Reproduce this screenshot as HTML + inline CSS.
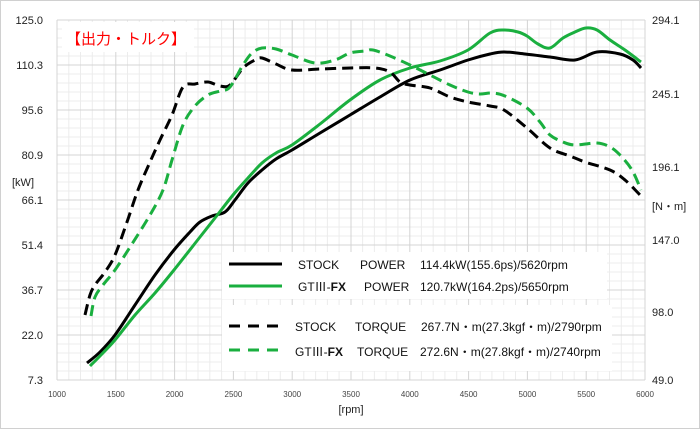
<!DOCTYPE html><html><head><meta charset="utf-8"><style>body{margin:0;background:#fff}svg{display:block;font-family:"Liberation Sans","Noto Sans CJK JP",sans-serif}</style></head><body>
<svg width="700" height="429" viewBox="0 0 700 429" xmlns="http://www.w3.org/2000/svg">
<rect x="0.5" y="0.5" width="699" height="428" fill="#fff" stroke="#d0d0d0"/>
<g stroke="#ececec" stroke-width="1">
<path d="M68.8 20V380M80.5 20V380M92.3 20V380M104 20V380M127.5 20V380M139.3 20V380M151 20V380M162.8 20V380M186.3 20V380M198 20V380M209.8 20V380M221.6 20V380M245.1 20V380M256.8 20V380M268.6 20V380M280.3 20V380M303.8 20V380M315.6 20V380M327.4 20V380M339.1 20V380M362.6 20V380M374.4 20V380M386.1 20V380M397.9 20V380M421.4 20V380M433.2 20V380M444.9 20V380M456.7 20V380M480.2 20V380M491.9 20V380M503.7 20V380M515.5 20V380M539 20V380M550.7 20V380M562.5 20V380M574.2 20V380M597.8 20V380M609.5 20V380M621.3 20V380M633 20V380"/>
<path d="M57 29H645M57 38H645M57 47H645M57 56H645M57 74H645M57 83H645M57 92H645M57 101H645M57 119H645M57 128H645M57 137H645M57 146H645M57 164H645M57 173H645M57 182H645M57 191H645M57 209H645M57 218H645M57 227H645M57 236H645M57 254H645M57 263H645M57 272H645M57 281H645M57 299H645M57 308H645M57 317H645M57 326H645M57 344H645M57 353H645M57 362H645M57 371H645"/>
</g>
<g stroke="#d4d4d4" stroke-width="1">
<path d="M57 20V380M115.8 20V380M174.6 20V380M233.4 20V380M292.2 20V380M351 20V380M409.8 20V380M468.6 20V380M527.4 20V380M586.2 20V380M645 20V380"/>
<path d="M57 20H645M57 65H645M57 110H645M57 155H645M57 200H645M57 245H645M57 290H645M57 335H645M57 380H645"/>
</g>
<rect x="62" y="22" width="132" height="30" fill="#fff"/>
<text x="66" y="44" font-size="15" fill="#ff0000">【出力・トルク】</text>
<rect x="222" y="252" width="385" height="47" fill="#fff"/>
<rect x="222" y="305" width="390" height="66" fill="#fff"/>
<g font-size="11" fill="#222" text-anchor="end">
<text x="43" y="24">125.0</text><text x="43" y="69">110.3</text><text x="43" y="114">95.6</text><text x="43" y="159">80.9</text><text x="43" y="204">66.1</text><text x="43" y="249">51.4</text><text x="43" y="294">36.7</text><text x="43" y="339">22.0</text><text x="43" y="384">7.3</text>
</g>
<text x="12" y="186" font-size="11" fill="#222">[kW]</text>
<g font-size="11" fill="#222">
<text x="652" y="24">294.1</text><text x="652" y="98">245.1</text><text x="652" y="171">196.1</text><text x="652" y="244">147.0</text><text x="652" y="316">98.0</text><text x="652" y="384">49.0</text>
<text x="652" y="210">[N・m]</text>
</g>
<g font-size="8" fill="#444" text-anchor="middle">
<text x="57" y="397">1000</text><text x="115.8" y="397">1500</text><text x="174.6" y="397">2000</text><text x="233.4" y="397">2500</text><text x="292.2" y="397">3000</text><text x="351" y="397">3500</text><text x="409.8" y="397">4000</text><text x="468.6" y="397">4500</text><text x="527.4" y="397">5000</text><text x="586.2" y="397">5500</text><text x="645" y="397">6000</text>
</g>
<text x="351" y="413" font-size="11" fill="#222" text-anchor="middle">[rpm]</text>
<g fill="none" stroke-width="3" stroke-linejoin="round" stroke-linecap="butt">
<path class="s" stroke="#000" d="M87 363L100 352L115 335L135 305L155 275L174 250L190 232L200 222L212 216L225 212L235 200L248 183L262 170L276 159L292 150L320 133L350 115L380 97L410 80L440 70L468 60L490 54L504 52L525 54L550 57L575 60L597 52L620 54L633 60L641 68"/>
<path class="s" stroke="#1aaf3f" d="M90 366L100 356L115 340L135 315L155 293L174 270L200 237L215 218L233 195L248 178L262 163L276 153L292 145L320 124L350 100L380 80L410 68L440 61L468 50L490 33L504 30L518 32L527 36L538 44L550 48L563 38L575 32L586 28L597 30L610 40L625 50L641 62"/>
<path class="s" stroke="#000" stroke-dasharray="11,6" d="M85 315L90 295L95 285L105 272L115 255L127 222L138 190L150 162L160 140L172 115L183 87L195 84L208 82L220 86L230 85L243 68L255 60L262 58L276 64L292 70L320 69L350 68L375 68L390 72L400 82L410 85L430 88L450 97L468 102L490 106L504 110L527 128L550 148L570 156L585 162L610 170L625 180L641 196"/>
<path class="s" stroke="#1aaf3f" stroke-dasharray="11,6" d="M91 316L95 297L103 285L115 270L132 244L150 215L163 190L172 160L183 125L195 106L208 95L220 91L230 87L243 65L252 53L262 48L276 49L292 55L315 63L335 60L350 53L365 51L373 50L390 56L410 65L430 75L450 85L468 92L480 94L492 93L505 96L527 108L540 122L550 135L563 142L575 145L597 143L610 147L620 155L632 170L641 190"/>
</g>
<g stroke-width="3" fill="none">
<path d="M229 264H282" stroke="#000"/>
<path d="M229 286H282" stroke="#1aaf3f"/>
<path d="M229 326H284" stroke="#000" stroke-dasharray="11,8"/>
<path d="M229 350H284" stroke="#1aaf3f" stroke-dasharray="11,8"/>
</g>
<g font-size="12" fill="#111">
<text x="298" y="269">STOCK</text><text x="360" y="269">POWER</text><text x="420" y="269">114.4kW(155.6ps)/5620rpm</text>
<text x="298" y="291">GTⅢ-<tspan font-weight="bold">FX</tspan></text><text x="364" y="291">POWER</text><text x="420" y="291">120.7kW(164.2ps)/5650rpm</text>
<text x="295" y="331">STOCK</text><text x="355" y="331">TORQUE</text><text x="421" y="331">267.7N・m(27.3kgf・m)/2790rpm</text>
<text x="295" y="356">GTⅢ-<tspan font-weight="bold">FX</tspan></text><text x="357" y="356">TORQUE</text><text x="420" y="356">272.6N・m(27.8kgf・m)/2740rpm</text>
</g>
</svg>
<script>
document.querySelectorAll('path.s').forEach(function(p){
var n=p.getAttribute('d').match(/-?[\d.]+/g).map(Number),pts=[];
for(var i=0;i<n.length;i+=2)pts.push([n[i],n[i+1]]);
var d='M'+pts[0][0]+' '+pts[0][1];
for(var i=0;i<pts.length-1;i++){var p0=pts[i-1]||pts[i],p1=pts[i],p2=pts[i+1],p3=pts[i+2]||p2;
d+='C'+(p1[0]+(p2[0]-p0[0])/6)+' '+(p1[1]+(p2[1]-p0[1])/6)+' '+(p2[0]-(p3[0]-p1[0])/6)+' '+(p2[1]-(p3[1]-p1[1])/6)+' '+p2[0]+' '+p2[1];}
p.setAttribute('d',d);});
</script>
</body></html>
